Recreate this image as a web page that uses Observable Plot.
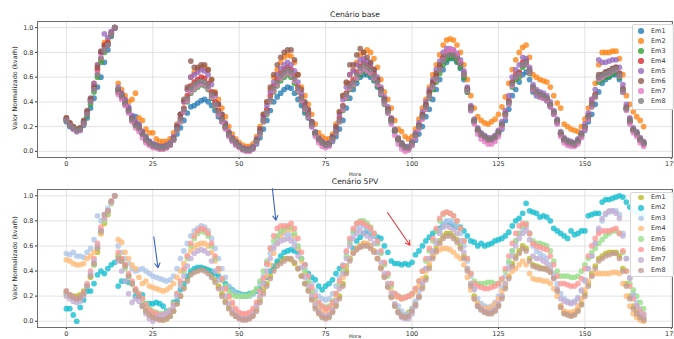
<!DOCTYPE html>
<html><head><meta charset="utf-8">
<script src="https://cdn.jsdelivr.net/npm/d3@7"></script>
<script src="https://cdn.jsdelivr.net/npm/@observablehq/plot@0.6"></script>
<style>
body{margin:0;background:#fff;font-family:"DejaVu Sans",sans-serif;}
#wrap{position:relative;width:674px;height:339px;overflow:hidden;background:#fff}
#wrap svg{position:absolute;left:0}
.t{position:absolute;white-space:nowrap;color:#222;line-height:1}
.leg{position:absolute;background:rgba(255,255,255,0.92);border:1px solid #d6d6d6;border-radius:2px}
.row{position:absolute;left:0;font-size:6.5px;color:#333;line-height:1;white-space:nowrap}
.mk{position:absolute;width:5.6px;height:5.6px;border-radius:50%}
</style></head>
<body><div id="wrap"></div>
<script>
// ---------- data (hourly normalized values, hours 0..167) ----------
const seriesNames = ["Em1","Em2","Em3","Em4","Em5","Em6","Em7","Em8"];
const xTicks = [0,25,50,75,100,125,150,175];
const yTicks = [0,0.2,0.4,0.6,0.8,1.0];
const titleTop = "Cenário base";
const titleBottom = "Cenário 5PV";
const xLabel = "Hora";
const yLabel = "Valor Normalizado (kvarh)";

// Cenário base
const baseEm1 = [
.24,.20,.18,.16,.17,.21,.27,.35,.43,.52,.60,.72,
.82,.93,1.0,.48,.45,.38,.35,.28,.28,.22,.16,.12,
.08,.06,.05,.04,.04,.05,.06,.09,.14,.19,.25,.31,
.36,.37,.39,.41,.42,.40,.37,.33,.28,.24,.19,.13,
.09,.06,.04,.02,.01,.01,.02,.06,.11,.18,.25,.33,
.40,.44,.47,.50,.52,.51,.47,.42,.37,.31,.27,.20,
.14,.09,.07,.05,.05,.08,.12,.18,.25,.35,.43,.50,
.55,.60,.62,.62,.60,.57,.52,.46,.40,.32,.24,.16,
.09,.05,.03,.03,.05,.09,.14,.20,.28,.34,.42,.50,
.58,.66,.72,.75,.75,.72,.67,.58,.48,.33,.24,.17,
.13,.11,.09,.09,.11,.14,.18,.25,.34,.45,.50,.56,
.62,.64,.58,.48,.45,.44,.43,.41,.36,.30,.23,.14,
.09,.07,.06,.06,.08,.12,.17,.24,.30,.38,.48,.55,
.58,.60,.62,.62,.58,.48,.34,.24,.17,.14,.09,.06];
const baseEm2 = [
.27,.23,.20,.18,.19,.24,.32,.42,.55,.70,.74,.88,
.90,.96,1.0,.55,.50,.45,.40,.42,.47,.27,.25,.18,
.15,.15,.10,.08,.08,.08,.10,.15,.22,.30,.40,.50,
.60,.64,.66,.68,.68,.66,.58,.48,.42,.35,.28,.20,
.14,.10,.07,.05,.04,.04,.06,.12,.20,.30,.40,.50,
.60,.66,.72,.76,.78,.77,.72,.62,.52,.45,.38,.30,
.22,.15,.12,.10,.10,.14,.22,.32,.45,.55,.62,.66,
.72,.78,.80,.82,.80,.75,.68,.58,.48,.42,.35,.25,
.18,.16,.12,.10,.12,.18,.26,.35,.42,.52,.62,.70,
.78,.86,.90,.91,.90,.86,.80,.70,.58,.45,.35,.28,
.25,.23,.22,.24,.26,.30,.36,.44,.55,.66,.74,.80,
.84,.86,.76,.62,.60,.58,.57,.56,.52,.45,.39,.35,
.22,.20,.18,.17,.16,.20,.26,.35,.42,.55,.70,.80,
.80,.80,.81,.81,.75,.62,.45,.38,.32,.28,.25,.20];
const baseEm3 = [
.25,.21,.19,.17,.18,.22,.29,.38,.48,.60,.72,.80,
.86,.94,1.0,.50,.44,.38,.32,.25,.22,.18,.14,.09,
.07,.05,.04,.03,.03,.04,.06,.10,.17,.24,.32,.40,
.47,.50,.52,.54,.53,.50,.43,.36,.30,.25,.19,.13,
.09,.06,.04,.02,.01,.01,.03,.08,.14,.24,.30,.40,
.48,.53,.57,.60,.62,.60,.55,.48,.40,.33,.28,.21,
.14,.10,.07,.05,.06,.10,.15,.24,.33,.43,.50,.53,
.58,.62,.65,.64,.62,.58,.53,.46,.38,.31,.24,.16,
.09,.06,.03,.03,.06,.12,.19,.27,.34,.43,.50,.56,
.63,.70,.74,.76,.76,.73,.68,.60,.48,.34,.24,.17,
.13,.11,.09,.09,.11,.15,.21,.29,.38,.52,.58,.60,
.68,.70,.63,.50,.47,.45,.44,.42,.37,.31,.24,.14,
.09,.07,.06,.06,.08,.13,.19,.27,.36,.44,.56,.58,
.60,.61,.63,.64,.60,.48,.34,.24,.17,.14,.09,.06];
const baseEm4 = [
.26,.22,.19,.17,.18,.23,.31,.41,.52,.66,.80,.86,
.88,.96,1.0,.50,.46,.41,.34,.27,.23,.20,.15,.10,
.07,.05,.04,.03,.03,.04,.06,.11,.19,.27,.35,.45,
.53,.56,.58,.60,.59,.55,.48,.40,.33,.27,.20,.14,
.10,.07,.04,.02,.01,.01,.03,.09,.16,.26,.34,.45,
.53,.58,.63,.66,.68,.66,.61,.52,.44,.36,.31,.22,
.15,.10,.07,.05,.06,.11,.17,.27,.37,.47,.55,.58,
.64,.69,.72,.70,.68,.63,.57,.50,.42,.34,.26,.17,
.10,.06,.03,.03,.07,.14,.21,.29,.37,.47,.55,.61,
.68,.75,.79,.80,.80,.77,.72,.63,.51,.36,.25,.18,
.14,.12,.10,.10,.12,.16,.22,.31,.41,.56,.62,.64,
.72,.73,.66,.52,.48,.46,.45,.43,.38,.32,.25,.15,
.10,.08,.07,.06,.09,.14,.20,.29,.39,.46,.60,.62,
.64,.65,.67,.68,.63,.51,.36,.26,.18,.15,.10,.07];
const baseEm5 = [
.26,.22,.19,.17,.18,.24,.32,.42,.55,.70,.80,.95,
.92,.97,1.0,.52,.47,.42,.36,.29,.24,.21,.16,.11,
.08,.06,.05,.04,.04,.05,.07,.12,.21,.30,.40,.50,
.60,.62,.64,.66,.65,.62,.54,.45,.38,.30,.23,.16,
.11,.08,.05,.03,.02,.02,.04,.10,.18,.28,.37,.48,
.56,.62,.67,.70,.72,.70,.65,.56,.47,.39,.33,.24,
.16,.11,.08,.06,.07,.12,.19,.30,.42,.52,.62,.65,
.70,.74,.75,.73,.71,.66,.60,.52,.44,.36,.27,.18,
.11,.07,.04,.04,.08,.15,.23,.32,.40,.50,.58,.66,
.73,.80,.83,.83,.82,.79,.74,.65,.52,.37,.26,.19,
.15,.13,.11,.11,.13,.17,.24,.33,.45,.60,.66,.70,
.76,.75,.68,.54,.50,.48,.47,.45,.40,.33,.26,.16,
.11,.09,.08,.07,.10,.15,.22,.31,.42,.50,.74,.72,
.72,.73,.74,.74,.68,.54,.38,.27,.19,.16,.11,.08];
const baseEm6 = [
.27,.23,.20,.18,.19,.25,.33,.43,.52,.68,.81,.85,
.87,.95,1.0,.48,.44,.39,.33,.26,.21,.19,.14,.09,
.06,.04,.03,.02,.02,.03,.05,.10,.20,.30,.42,.52,
.73,.68,.68,.70,.70,.66,.58,.47,.38,.30,.22,.15,
.10,.07,.04,.02,.01,.01,.03,.09,.18,.30,.40,.52,
.62,.70,.76,.80,.82,.82,.74,.62,.50,.40,.34,.24,
.15,.10,.07,.05,.06,.12,.20,.32,.45,.56,.70,.70,
.78,.83,.80,.76,.72,.66,.58,.50,.42,.34,.26,.17,
.10,.06,.03,.02,.06,.13,.21,.30,.38,.48,.56,.63,
.70,.76,.80,.80,.79,.76,.71,.62,.50,.35,.24,.17,
.13,.11,.09,.09,.11,.15,.21,.30,.40,.55,.60,.63,
.70,.72,.64,.50,.47,.45,.44,.42,.37,.31,.24,.14,
.09,.07,.06,.05,.08,.13,.19,.28,.37,.45,.62,.62,
.64,.65,.67,.68,.63,.50,.35,.24,.17,.14,.09,.06];
const baseEm7 = [
.25,.21,.18,.16,.17,.22,.30,.40,.50,.63,.76,.82,
.86,.95,1.0,.46,.42,.37,.31,.24,.19,.16,.11,.07,
.05,.03,.03,.02,.02,.03,.05,.09,.17,.24,.32,.41,
.48,.51,.53,.55,.54,.51,.44,.37,.30,.24,.18,.12,
.08,.05,.03,.01,.00,.00,.02,.07,.14,.24,.31,.41,
.49,.54,.59,.62,.64,.62,.57,.49,.41,.34,.28,.20,
.12,.07,.04,.03,.04,.09,.15,.24,.34,.44,.51,.54,
.59,.64,.67,.65,.63,.59,.54,.47,.39,.31,.22,.13,
.06,.02,.00,.01,.05,.11,.18,.26,.34,.44,.52,.58,
.66,.74,.80,.82,.81,.78,.72,.62,.49,.33,.22,.14,
.10,.08,.06,.06,.08,.12,.19,.28,.38,.53,.60,.62,
.70,.71,.64,.50,.46,.44,.43,.41,.36,.30,.22,.12,
.07,.05,.04,.04,.06,.11,.18,.26,.36,.44,.58,.60,
.62,.63,.65,.66,.61,.48,.33,.22,.15,.12,.07,.04];
const baseEm8 = [
.25,.21,.19,.17,.18,.23,.30,.40,.50,.62,.75,.82,
.86,.95,1.0,.50,.45,.40,.33,.26,.21,.19,.14,.10,
.07,.05,.04,.03,.03,.04,.06,.10,.18,.26,.34,.43,
.51,.54,.56,.57,.56,.53,.46,.38,.32,.26,.20,.14,
.10,.07,.04,.02,.01,.01,.03,.08,.15,.25,.32,.42,
.51,.56,.61,.64,.66,.64,.59,.51,.43,.35,.30,.22,
.15,.10,.07,.05,.06,.10,.16,.25,.36,.46,.53,.56,
.62,.67,.70,.68,.66,.61,.56,.49,.41,.33,.25,.17,
.10,.06,.03,.03,.07,.13,.20,.28,.36,.45,.53,.59,
.66,.73,.77,.78,.78,.75,.70,.62,.50,.35,.25,.18,
.14,.12,.10,.10,.12,.16,.22,.30,.40,.55,.60,.62,
.70,.72,.65,.52,.48,.46,.45,.43,.38,.32,.25,.15,
.10,.08,.07,.06,.09,.14,.20,.28,.38,.45,.60,.62,
.63,.64,.66,.67,.62,.50,.35,.25,.18,.15,.10,.07];

// Cenário 5PV
const pvEm1 = [
.22,.20,.20,.20,.21,.24,.28,.35,.45,.55,.70,.78,
.85,.95,1.0,.52,.50,.45,.36,.30,.25,.20,.13,.09,
.06,.04,.03,.02,.01,.02,.04,.08,.14,.20,.27,.34,
.38,.40,.41,.42,.42,.40,.37,.33,.28,.22,.16,.11,
.07,.04,.03,.02,.02,.03,.05,.10,.17,.25,.30,.36,
.42,.46,.48,.50,.50,.49,.46,.42,.36,.30,.25,.18,
.12,.07,.04,.03,.04,.08,.13,.20,.30,.40,.50,.55,
.58,.60,.62,.61,.60,.56,.50,.43,.36,.28,.20,.13,
.08,.05,.05,.07,.10,.14,.20,.28,.35,.44,.52,.58,
.64,.68,.70,.70,.68,.65,.60,.52,.42,.30,.20,.14,
.10,.08,.07,.07,.09,.13,.20,.28,.36,.46,.52,.56,
.60,.58,.50,.45,.44,.43,.42,.42,.40,.35,.25,.12,
.07,.06,.05,.06,.09,.14,.22,.30,.38,.44,.50,.52,
.54,.55,.55,.55,.52,.42,.30,.20,.12,.08,.04,.02];
const pvEm2 = [
.10,.10,.05,.00,.11,.17,.24,.24,.30,.37,.40,.38,
.42,.45,.47,.28,.32,.32,.31,.30,.20,.20,.21,.14,
.14,.14,.15,.14,.12,.08,.08,.15,.16,.25,.30,.36,
.40,.42,.43,.43,.42,.41,.40,.38,.36,.33,.30,.27,
.25,.23,.22,.21,.21,.22,.22,.24,.26,.30,.35,.40,
.44,.48,.52,.55,.56,.57,.56,.55,.50,.45,.38,.35,
.33,.28,.25,.28,.30,.33,.38,.42,.44,.44,.50,.58,
.64,.67,.70,.72,.70,.68,.67,.66,.60,.55,.48,.46,
.46,.45,.46,.45,.47,.53,.56,.60,.64,.67,.70,.72,
.74,.77,.79,.78,.76,.75,.75,.72,.68,.64,.63,.60,
.62,.60,.61,.62,.64,.65,.66,.68,.71,.76,.80,.82,
.86,.94,.88,.87,.86,.83,.84,.83,.80,.74,.72,.70,
.68,.66,.72,.69,.70,.72,.72,.84,.85,.86,.86,.95,
.97,.97,.98,.99,1.0,.99,.95,.91,.88,.87,.86,.85];
const pvEm3 = [
.54,.53,.55,.52,.52,.51,.55,.58,.65,.84,.80,.85,
.90,.95,1.0,.60,.55,.50,.46,.42,.40,.41,.42,.40,
.38,.36,.35,.34,.33,.32,.33,.36,.42,.50,.56,.62,
.68,.72,.74,.76,.75,.72,.66,.58,.50,.42,.35,.28,
.24,.22,.21,.20,.20,.20,.22,.25,.30,.36,.45,.54,
.60,.66,.70,.70,.70,.68,.64,.58,.50,.42,.36,.30,
.24,.20,.18,.17,.18,.22,.28,.35,.45,.55,.64,.70,
.74,.76,.76,.74,.72,.68,.62,.55,.46,.38,.30,.20,
.12,.08,.05,.06,.10,.16,.24,.32,.42,.50,.56,.64,
.72,.78,.80,.80,.79,.76,.70,.60,.48,.36,.25,.18,
.14,.12,.11,.12,.15,.20,.27,.36,.46,.56,.64,.70,
.74,.75,.70,.60,.56,.54,.52,.50,.45,.38,.30,.22,
.18,.16,.15,.16,.19,.25,.33,.42,.52,.62,.72,.80,
.85,.87,.88,.88,.85,.70,.50,.35,.22,.15,.10,.06];
const pvEm4 = [
.49,.48,.46,.45,.45,.46,.50,.52,.55,.60,.70,.80,
.86,.94,1.0,.65,.63,.55,.50,.45,.42,.35,.30,.32,
.28,.27,.26,.25,.24,.25,.27,.30,.35,.40,.46,.52,
.56,.59,.61,.62,.62,.60,.55,.48,.40,.33,.26,.19,
.13,.08,.06,.05,.05,.06,.08,.13,.20,.28,.36,.45,
.54,.62,.68,.72,.74,.73,.68,.58,.48,.38,.30,.22,
.15,.10,.08,.07,.08,.12,.18,.26,.35,.44,.50,.55,
.58,.60,.62,.62,.60,.56,.50,.43,.36,.30,.24,.20,
.19,.18,.19,.20,.21,.24,.28,.34,.40,.46,.52,.55,
.57,.58,.58,.57,.55,.52,.50,.45,.35,.25,.18,.14,
.11,.10,.10,.11,.14,.18,.24,.30,.36,.40,.42,.45,
.48,.45,.38,.34,.33,.33,.32,.32,.30,.26,.20,.12,
.08,.07,.07,.08,.12,.18,.25,.32,.36,.38,.38,.38,
.38,.38,.39,.39,.38,.30,.20,.12,.06,.03,.01,.00];
const pvEm5 = [
.22,.20,.19,.18,.19,.22,.28,.36,.45,.58,.72,.80,
.86,.94,1.0,.52,.48,.42,.36,.30,.25,.22,.18,.14,
.10,.08,.07,.06,.06,.07,.09,.14,.22,.30,.40,.50,
.60,.66,.70,.72,.71,.68,.60,.50,.42,.34,.28,.24,
.21,.20,.20,.20,.20,.21,.23,.26,.32,.40,.48,.58,
.64,.68,.72,.74,.75,.75,.70,.60,.50,.40,.32,.24,
.18,.14,.12,.11,.12,.16,.22,.30,.40,.52,.62,.72,
.78,.80,.80,.78,.75,.70,.62,.54,.45,.36,.28,.22,
.20,.19,.19,.20,.22,.26,.32,.40,.48,.56,.64,.72,
.80,.85,.87,.86,.84,.80,.74,.64,.50,.38,.32,.30,
.30,.30,.31,.31,.30,.30,.33,.40,.48,.56,.64,.70,
.76,.78,.70,.64,.62,.62,.61,.60,.56,.48,.40,.36,
.36,.36,.35,.35,.36,.40,.45,.50,.55,.58,.62,.65,
.68,.70,.72,.72,.70,.55,.40,.30,.25,.20,.15,.10];
const pvEm6 = [
.24,.21,.19,.18,.19,.23,.30,.40,.50,.62,.75,.82,
.88,.95,1.0,.55,.50,.45,.38,.32,.26,.22,.18,.13,
.09,.07,.06,.05,.05,.06,.08,.13,.22,.32,.42,.52,
.62,.68,.72,.74,.73,.70,.62,.52,.42,.34,.26,.20,
.15,.10,.07,.06,.06,.07,.10,.15,.24,.34,.46,.58,
.68,.74,.76,.76,.76,.78,.74,.66,.55,.45,.36,.27,
.20,.15,.12,.10,.11,.15,.22,.32,.44,.56,.66,.74,
.78,.79,.78,.76,.74,.70,.64,.56,.47,.38,.30,.22,
.20,.18,.19,.20,.22,.26,.32,.40,.50,.58,.66,.74,
.82,.86,.87,.86,.84,.80,.74,.64,.50,.38,.30,.28,
.27,.26,.26,.27,.28,.30,.34,.42,.52,.62,.70,.76,
.78,.77,.70,.62,.60,.59,.58,.57,.52,.45,.36,.30,
.30,.29,.28,.28,.30,.34,.42,.52,.60,.66,.70,.72,
.72,.72,.73,.74,.70,.56,.40,.28,.18,.12,.08,.05];
const pvEm7 = [
.20,.18,.16,.15,.16,.20,.28,.38,.48,.60,.72,.82,
.88,.95,1.0,.48,.40,.32,.22,.15,.18,.16,.12,.06,
.02,.00,.03,.04,.05,.06,.08,.12,.20,.28,.36,.44,
.50,.54,.56,.57,.56,.54,.48,.40,.33,.26,.20,.14,
.09,.05,.03,.02,.02,.03,.06,.12,.20,.30,.40,.50,
.58,.62,.64,.65,.66,.64,.60,.52,.43,.35,.28,.20,
.13,.08,.05,.04,.05,.09,.16,.26,.38,.50,.60,.66,
.70,.72,.70,.68,.66,.62,.55,.47,.38,.30,.22,.14,
.07,.03,.02,.02,.06,.12,.20,.30,.42,.50,.55,.62,
.70,.75,.76,.75,.73,.70,.64,.55,.42,.30,.26,.12,
.10,.08,.07,.08,.10,.14,.20,.30,.42,.52,.60,.66,
.70,.72,.65,.52,.50,.50,.48,.46,.42,.35,.26,.18,
.16,.15,.14,.15,.18,.24,.32,.42,.52,.62,.74,.82,
.86,.88,.88,.86,.82,.68,.50,.34,.20,.12,.06,.03];
const pvEm8 = [
.24,.21,.19,.18,.19,.22,.28,.36,.46,.58,.72,.85,
.88,.96,1.0,.50,.48,.44,.36,.30,.24,.20,.12,.08,
.05,.03,.02,.01,.01,.02,.04,.08,.14,.20,.26,.32,
.37,.39,.40,.41,.40,.38,.35,.31,.26,.20,.15,.10,
.06,.04,.02,.01,.01,.02,.04,.08,.15,.22,.28,.34,
.40,.44,.46,.48,.50,.50,.47,.42,.36,.30,.24,.17,
.10,.06,.03,.02,.03,.07,.12,.18,.28,.38,.48,.54,
.57,.59,.60,.60,.58,.55,.50,.42,.35,.27,.19,.12,
.07,.04,.03,.04,.08,.13,.19,.26,.33,.42,.50,.56,
.62,.66,.68,.68,.66,.63,.58,.50,.40,.28,.18,.12,
.09,.07,.06,.06,.08,.12,.18,.26,.34,.44,.50,.54,
.58,.56,.48,.44,.43,.42,.42,.41,.39,.34,.24,.11,
.06,.05,.04,.05,.08,.13,.20,.28,.36,.42,.48,.50,
.52,.53,.54,.54,.50,.40,.28,.18,.10,.06,.03,.01];

// annotation arrows (Cenário 5PV), in data units
const arrowX1 = [25.3, 59.6, 92.9];
const arrowY1 = [0.673, 1.058, 0.867];
const arrowX2 = [26.5, 60.6, 99.4];
const arrowY2 = [0.426, 0.805, 0.606];
const arrowColor = ["#3a62c4", "#3a62c4", "#e8383d"];

const baseColors = ["#1f77b4","#ff7f0e","#2ca02c","#d62728","#9467bd","#8c564b","#e377c2","#7f7f7f"];
const pvColors = ["#bcbd22","#17becf","#aec7e8","#ffbb78","#98df8a","#ff9896","#c5b0d5","#c49c94"];

// ---------- build ----------
const baseList = [baseEm1,baseEm2,baseEm3,baseEm4,baseEm5,baseEm6,baseEm7,baseEm8];
const pvList = [pvEm1,pvEm2,pvEm3,pvEm4,pvEm5,pvEm6,pvEm7,pvEm8];
const toRows = list => list.flatMap((vals, k) => vals.map((v, i) => ({hour: i, value: v, series: seriesNames[k]})));
const arrows = arrowX1.map((d, i) => ({x1: d, y1: arrowY1[i], x2: arrowX2[i], y2: arrowY2[i], c: arrowColor[i]}));

const wrap = document.getElementById("wrap");

function panel(rows, colors, opts) {
  const marks = [
    Plot.ruleX(xTicks, {stroke: "#dcdcdc", strokeWidth: 0.8}),
    Plot.ruleY(yTicks, {stroke: "#dcdcdc", strokeWidth: 0.8}),
    Plot.dot(rows, {x: "hour", y: "value", fill: "series", r: 2.85, fillOpacity: opts.alpha, stroke: "none"}),
    Plot.frame({stroke: "#6e6e6e", strokeWidth: 1})
  ];
  if (opts.arrows) marks.push(Plot.arrow(opts.arrows, {x1: "x1", y1: "y1", x2: "x2", y2: "y2", stroke: "c", strokeWidth: 1.1, headLength: 7, clip: false}));
  const svg = Plot.plot({
    width: 674, height: opts.height,
    marginLeft: 37, marginRight: 2, marginTop: opts.mt, marginBottom: opts.mb,
    style: {fontFamily: "DejaVu Sans, sans-serif", fontSize: "6.5px", color: "#333", background: "transparent", overflow: "visible"},
    x: {domain: [-8.35, 175.35], ticks: xTicks, tickFormat: d => String(d), label: null, tickSize: 2, tickPadding: 2},
    y: {domain: [-0.05, 1.05], ticks: yTicks, tickFormat: d => d.toFixed(1), label: null, tickSize: 2, tickPadding: 2},
    color: {domain: seriesNames, range: colors},
    marks
  });
  svg.style.top = opts.top + "px";
  wrap.appendChild(svg);
}

panel(toRows(baseList), baseColors, {height: 170, mt: 21, mb: 13, top: 0, alpha: 0.76});
panel(toRows(pvList), pvColors, {height: 169, mt: 19, mb: 12, top: 170, alpha: 0.8, arrows});

function text(str, x, y, size, extra) {
  const d = document.createElement("div");
  d.className = "t";
  d.textContent = str;
  d.style.fontSize = size + "px";
  d.style.left = x + "px";
  d.style.top = y + "px";
  d.style.transform = "translate(-50%,-50%)" + (extra || "");
  wrap.appendChild(d);
}
text(titleTop, 355, 14.5, 7.6);
text(titleBottom, 355, 182, 7.6);
text(xLabel, 355, 174, 5);
text(xLabel, 355, 335.5, 5);
text(yLabel, 15, 88, 6.4, " rotate(-90deg)");
text(yLabel, 15, 258, 6.4, " rotate(-90deg)");

function legend(colors, left, top, w, h, y0, step, alpha) {
  const box = document.createElement("div");
  box.className = "leg";
  box.style.left = left + "px"; box.style.top = top + "px";
  box.style.width = w + "px"; box.style.height = h + "px";
  wrap.appendChild(box);
  seriesNames.forEach((n, i) => {
    const cy = y0 + step * i;
    const m = document.createElement("div");
    m.className = "mk";
    m.style.background = colors[i];
    m.style.opacity = alpha;
    m.style.left = (641 - 2.8 - left - 1) + "px";
    m.style.top = (cy - 2.8 - top - 1) + "px";
    box.appendChild(m);
    const t = document.createElement("div");
    t.className = "row";
    t.textContent = n;
    t.style.left = (651 - left - 1) + "px";
    t.style.top = (cy - 3.5 - top - 1) + "px";
    box.appendChild(t);
  });
}
legend(baseColors, 632, 24, 40, 84, 31, 10, 0.78);
legend(pvColors, 630, 192, 42, 83, 197.5, 10.4, 0.8);
</script></body></html>
